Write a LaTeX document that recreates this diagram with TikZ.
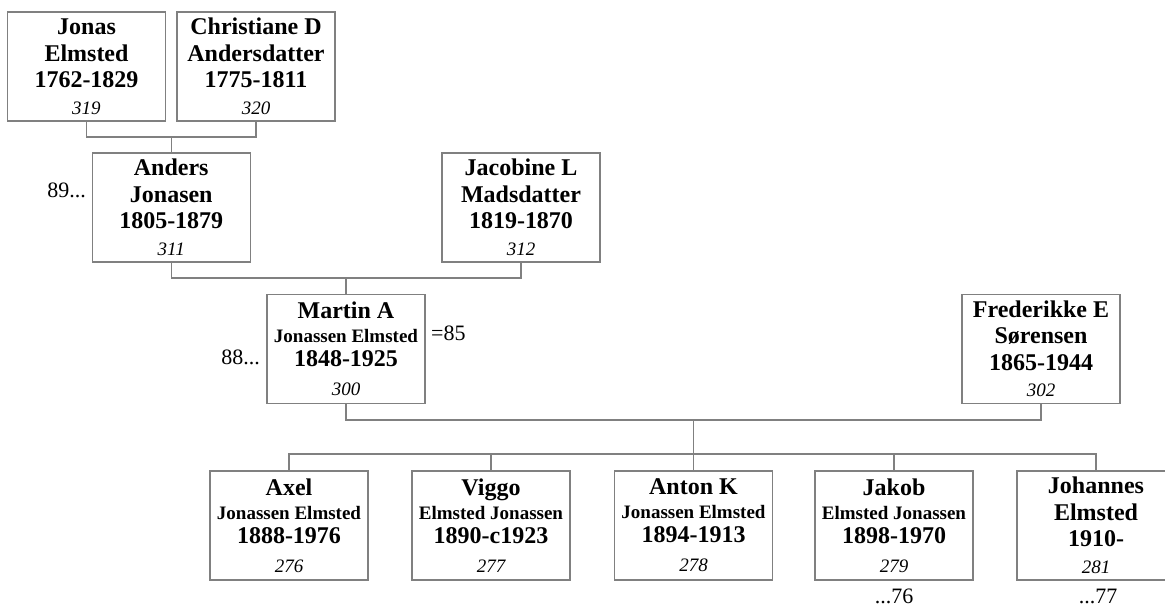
\documentclass[tikz,border=0pt]{standalone}
\usepackage{fontspec}
\setmainfont{Liberation Serif}
\usepackage{tikz}
\usetikzlibrary{positioning}
\definecolor{framegray}{RGB}{128,128,128}

\newcommand{\altname}[1]{{\fontsize{19}{22}\selectfont #1}}
\newcommand{\refno}[1]{{\fontsize{19}{22}\selectfont\mdseries\itshape #1}}

\tikzset{
  person/.style={draw=framegray, line width=1.3pt, fill=white,
    minimum width=158pt, minimum height=109pt, inner sep=0pt,
    align=center, font=\fontsize{24}{26.5}\selectfont\bfseries},
  link/.style={draw=framegray, line width=1.3pt},
  note/.style={inner sep=0pt, font=\fontsize{22}{24}\selectfont}
}

\begin{document}
\begin{tikzpicture}[x=1pt, y=-1pt]
    \useasboundingbox[fill=white] (0,0) rectangle (1165,606);

    % Generation 1
    \node[person] (jonas) at (86.5,66.5) {Jonas\\Elmsted\\1762-1829\\\refno{319}};
    \node[person] (christiane) at (256,66.5) {Christiane D\\Andersdatter\\1775-1811\\\refno{320}};

    % Generation 2
    \node[person] (anders) at (171.25,207.5) {Anders\\Jonasen\\1805-1879\\\refno{311}};
    \node[person] (jacobine) at (521,207.5) {Jacobine L\\Madsdatter\\1819-1870\\\refno{312}};
    \node[note, anchor=east] (anders-ref) at (86,190) {89...};

    % Generation 3
    \node[person] (martin) at (346,349) {Martin A\\[-2.5pt]\altname{Jonassen Elmsted}\\[-2.5pt]1848-1925\\[2.5pt]\refno{300}};
    \node[person] (frederikke) at (1041,349) {Frederikke E\\Sørensen\\1865-1944\\\refno{302}};
    \node[note, anchor=east] (martin-ref) at (260,357) {88...};
    \node[note, anchor=west] (martin-mar) at (431,333) {=85};

    % Generation 4
    \node[person] (axel) at (289,525.5) {Axel\\[-2.5pt]\altname{Jonassen Elmsted}\\[-2.5pt]1888-1976\\[2.5pt]\refno{276}};
    \node[person] (viggo) at (491,525.5) {Viggo\\[-2.5pt]\altname{Elmsted Jonassen}\\[-2.5pt]1890-c1923\\[2.5pt]\refno{277}};
    \node[person] (anton) at (693.5,525.5) {Anton K\\[-2.5pt]\altname{Jonassen Elmsted}\\[-2.5pt]1894-1913\\[2.5pt]\refno{278}};
    \node[person] (jakob) at (894,525.5) {Jakob\\[-2.5pt]\altname{Elmsted Jonassen}\\[-2.5pt]1898-1970\\[2.5pt]\refno{279}};
    \node[person] (johannes) at (1096,525.5) {Johannes\\Elmsted\\1910-\\\refno{281}};
    \node[note] (jakob-ref) at (894,596) {...76};
    \node[note] (johannes-ref) at (1098,596) {...77};

    % Family lines
    \coordinate (gen1) at (171.25,137);
    \coordinate (gen2) at (346,278);
    \coordinate (gen3) at (693.5,420);
    \coordinate (kids) at (693.5,454);
    \draw[link] (jonas.south) |- (gen1) -| (christiane.south);
    \draw[link] (gen1) -- (anders.north);
    \draw[link] (anders.south) |- (gen2) -| (jacobine.south);
    \draw[link] (gen2) -- (martin.north);
    \draw[link] (martin.south) |- (gen3) -| (frederikke.south);
    \draw[link] (gen3) -- (kids);
    \draw[link] (axel.north) |- (kids) -| (johannes.north);
    \foreach \k in {viggo,anton,jakob}
        \draw[link] (\k.north) -- (\k.north |- kids);
\end{tikzpicture}
\end{document}
